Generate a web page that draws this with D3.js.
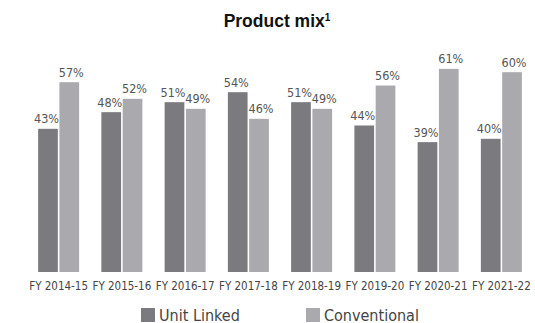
<!DOCTYPE html>
<html>
<head>
<meta charset="utf-8">
<script src="https://cdn.jsdelivr.net/npm/d3@7"></script>
<style>
  html, body { margin: 0; padding: 0; background: #ffffff; }
  svg { display: block; }
  .cond { font-family: 'DejaVu Sans', sans-serif; font-stretch: condensed; }
</style>
</head>
<body>
<svg id="chart" width="535" height="323"></svg>
<script>
// Product mix by fiscal year (share of new business, %)
const years = ["FY 2014-15", "FY 2015-16", "FY 2016-17", "FY 2017-18",
               "FY 2018-19", "FY 2019-20", "FY 2020-21", "FY 2021-22"];
const unitLinked = [43, 48, 51, 54, 51, 44, 39, 40];
const conventional = [57, 52, 49, 46, 49, 56, 61, 60];
const seriesNames = ["Unit Linked", "Conventional"];
const seriesColors = ["#7b7b7f", "#aaaaae"];

const svg = d3.select("#chart");

const rows = years.map((y, i) => ({ year: y, values: [unitLinked[i], conventional[i]] }));

const x = d3.scaleBand().domain(years).range([27, 533]);
const xInner = d3.scaleBand().domain([0, 1]).range([0, 41]).paddingInner(0.075);
const y = d3.scaleLinear().domain([0, 100]).range([272, -61]);

// Value labels sit a little apart so neighbouring figures don't collide
const labelNudge = [-1.5, 2];

// Title
const title = svg.append("text")
  .attr("x", 277).attr("y", 27)
  .attr("text-anchor", "middle")
  .attr("font-family", "'Liberation Sans', Arial, sans-serif")
  .attr("font-weight", "bold")
  .attr("font-size", 17.5)
  .attr("fill", "#111");
title.append("tspan").text("Product mix");
title.append("tspan").text("1").attr("font-size", 10).attr("dy", -6);

// Bars
const groups = svg.append("g").selectAll("g")
  .data(rows).join("g")
  .attr("transform", d => `translate(${x(d.year) + (x.bandwidth() - 41) / 2},0)`);

groups.selectAll("rect")
  .data(d => d.values.map((v, k) => ({ v, k })))
  .join("rect")
  .attr("x", d => xInner(d.k))
  .attr("width", xInner.bandwidth())
  .attr("y", d => y(d.v))
  .attr("height", d => y(0) - y(d.v))
  .attr("fill", d => seriesColors[d.k]);

groups.selectAll("text.val")
  .data(d => d.values.map((v, k) => ({ v, k })))
  .join("text")
  .attr("class", "val cond")
  .attr("x", d => xInner(d.k) + xInner.bandwidth() / 2 + labelNudge[d.k])
  .attr("y", d => y(d.v) - 5.5)
  .attr("text-anchor", "middle")
  .attr("font-size", 12.5)
  .attr("fill", "#555")
  .text(d => d.v + "%");

// Category axis
const xAxis = svg.append("g")
  .attr("transform", "translate(0,272)")
  .call(d3.axisBottom(x).tickSize(0).tickPadding(10));
xAxis.select(".domain").remove();
xAxis.attr("font-family", null);
xAxis.selectAll("text")
  .attr("class", "cond")
  .attr("font-size", 11.5)
  .attr("fill", "#444");

// Legend
const legendX = [141, 306];
const legend = svg.append("g").selectAll("g")
  .data(seriesNames).join("g")
  .attr("transform", (d, i) => `translate(${legendX[i]},308)`);
legend.append("rect")
  .attr("width", 14).attr("height", 14)
  .attr("fill", (d, i) => seriesColors[i]);
legend.append("text")
  .attr("class", "cond")
  .attr("x", 18).attr("y", 12.5)
  .attr("font-size", 16)
  .attr("fill", "#444")
  .text(d => d);
</script>
</body>
</html>
